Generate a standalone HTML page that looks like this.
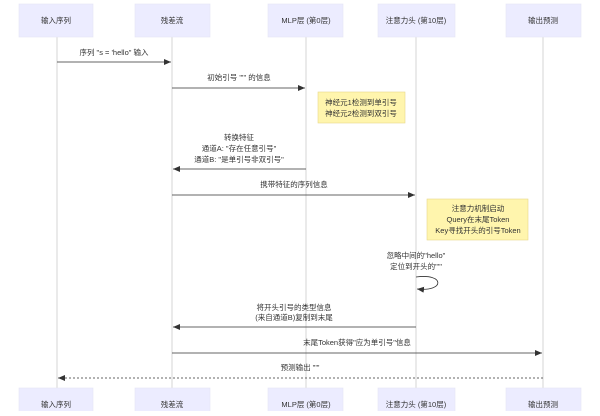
<!DOCTYPE html>
<html><head><meta charset="utf-8"><style>
html,body{margin:0;padding:0;background:#fff;}
svg text{font-family:"Liberation Sans","Noto Sans CJK SC",sans-serif;font-size:7.5px;fill:#333;text-anchor:middle;}
</style></head><body>
<svg width="600" height="411" viewBox="0 0 600 411" xmlns="http://www.w3.org/2000/svg">
<defs>
<marker id="a" markerWidth="8" markerHeight="8" refX="7" refY="4" orient="auto" markerUnits="userSpaceOnUse">
<path d="M0,1 L7,4 L0,7 z" fill="#333"/></marker>
</defs>
<g stroke="#ccc" stroke-width="0.8">
<line x1="57" y1="36" x2="57" y2="388"/>
<line x1="172" y1="36" x2="172" y2="388"/>
<line x1="306" y1="36" x2="306" y2="388"/>
<line x1="416" y1="36" x2="416" y2="388"/>
<line x1="543" y1="36" x2="543" y2="388"/>
</g>
<g fill="#ECECFF" stroke="#e4e4f4" stroke-width="0.6">
<rect x="19" y="4" width="74" height="33"/>
<rect x="135" y="4" width="75" height="33"/>
<rect x="268" y="4" width="75" height="33"/>
<rect x="378" y="4" width="77" height="33"/>
<rect x="506" y="4" width="75" height="33"/>
<rect x="19" y="388" width="74" height="33"/>
<rect x="135" y="388" width="75" height="33"/>
<rect x="268" y="388" width="75" height="33"/>
<rect x="378" y="388" width="77" height="33"/>
<rect x="506" y="388" width="75" height="33"/>
</g>
<text x="56" y="23">输入序列</text>
<text x="172" y="23">残差流</text>
<text x="306" y="23">MLP层 (第0层)</text>
<text x="416" y="23">注意力头 (第10层)</text>
<text x="543" y="23">输出预测</text>
<text x="56" y="407">输入序列</text>
<text x="172" y="407">残差流</text>
<text x="306" y="407">MLP层 (第0层)</text>
<text x="416" y="407">注意力头 (第10层)</text>
<text x="543" y="407">输出预测</text>

<g stroke="#333" stroke-width="0.8" fill="none">
<line x1="57" y1="62" x2="171" y2="62" marker-end="url(#a)"/>
<line x1="172" y1="88" x2="305" y2="88" marker-end="url(#a)"/>
<line x1="306" y1="169" x2="173" y2="169" marker-end="url(#a)"/>
<line x1="172" y1="195" x2="415" y2="195" marker-end="url(#a)"/>
<path d="M416,277 C445,273 445,292 417,289" marker-end="url(#a)"/>
<line x1="416" y1="327" x2="173" y2="327" marker-end="url(#a)"/>
<line x1="172" y1="353" x2="542" y2="353" marker-end="url(#a)"/>
<line x1="543" y1="378" x2="58" y2="378" stroke-dasharray="2,2" marker-end="url(#a)"/>
</g>
<text x="114" y="55">序列 "s = 'hello" 输入</text>
<text x="239" y="80">初始引号 "'" 的信息</text>
<text x="239" y="140">转换特征</text>
<text x="239" y="151">通道A: "存在任意引号"</text>
<text x="239" y="162">通道B: "是单引号非双引号"</text>
<text x="294" y="187">携带特征的序列信息</text>
<text x="416" y="258">忽略中间的"hello"</text>
<text x="416" y="269">定位到开头的"'"</text>
<text x="294" y="310">将开头引号的类型信息</text>
<text x="294" y="320">(来自通道B)复制到末尾</text>
<text x="357" y="345">末尾Token获得"应为单引号"信息</text>
<text x="300" y="370">预测输出 "'"</text>

<rect x="318" y="92" width="87" height="31" fill="#FFF5AD" stroke="#e6d88a" stroke-width="0.6"/>
<text x="361" y="105">神经元1检测到单引号</text>
<text x="361" y="116">神经元2检测到双引号</text>
<rect x="427" y="199" width="101" height="41" fill="#FFF5AD" stroke="#e6d88a" stroke-width="0.6"/>
<text x="478" y="211">注意力机制启动</text>
<text x="478" y="222">Query在末尾Token</text>
<text x="478" y="233">Key寻找开头的引号Token</text>
</svg>
</body></html>
